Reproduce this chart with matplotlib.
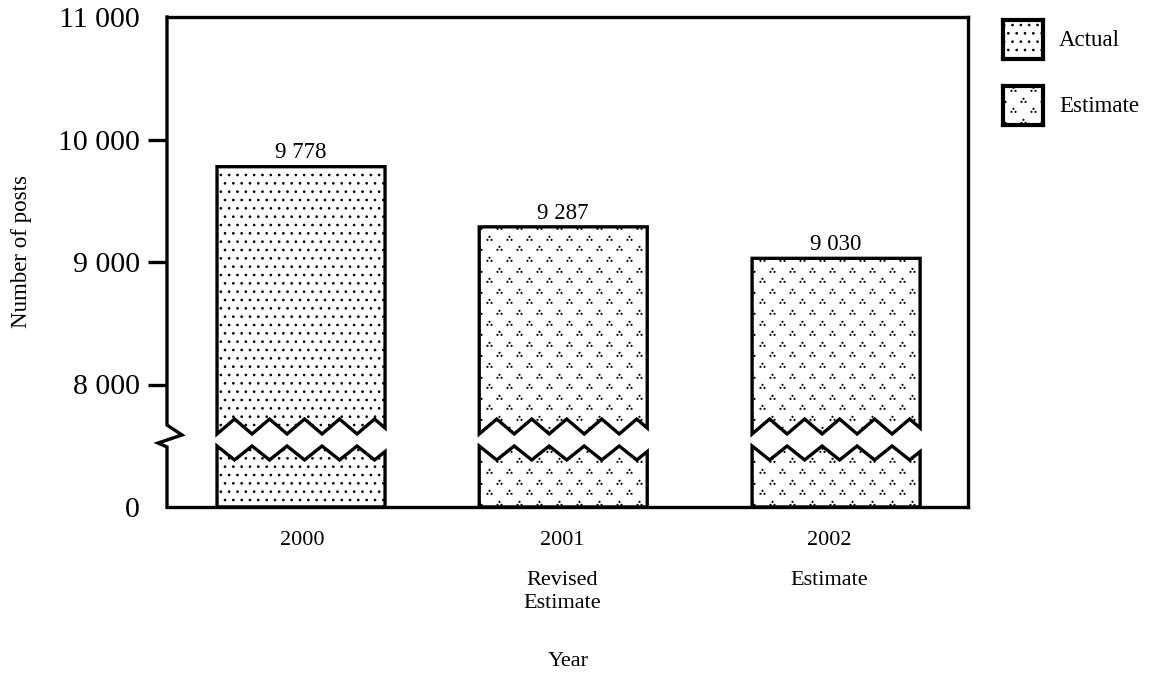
import numpy as np
import matplotlib.pyplot as plt
import matplotlib.transforms as mtransforms
from matplotlib.patches import Polygon, Rectangle
from matplotlib.path import Path

plt.rcParams['font.family'] = ['Liberation Serif', 'DejaVu Serif']
plt.rcParams['hatch.linewidth'] = 0.7

# ---- data ----
years = ['2000', '2001', '2002']
notes = [[], ['Revised', 'Estimate'], ['Estimate']]
posts = [9778, 9287, 9030]
kinds = ['Actual', 'Estimate', 'Estimate']
ytick_vals = [0, 8000, 9000, 10000, 11000]

# ---- layout ----
W, H = 1151, 673
X_POS = [0, 0.98, 2.0]
BAR_W = 0.628
BASE = 7000                      # where the broken axis draws 0
XLIM = (-0.501, 2.493)
YLIM = (BASE, 11000)
AX_PX = (167, 17, 968, 507)      # left, top, right, bottom in pixels
PX_X = (XLIM[1] - XLIM[0]) / (AX_PX[2] - AX_PX[0])
PX_Y = (YLIM[1] - YLIM[0]) / (AX_PX[3] - AX_PX[1])
LW = 2.4


def fmt(v):
    return f"{v:,}".replace(",", " ")


def tri(x, period):
    return 1 - 4 * np.abs((x / period) % 1 - 0.5)


def zigzag(left, width, mid, amp, sign):
    period = width / 4.8
    xs = np.append(np.arange(0, width, period / 2), width)
    return left + xs, mid + sign * amp * tri(xs, period)


def triad_marker():
    r = 0.32
    return Path.make_compound_path(Path.circle((0, 0.5), r),
                                   Path.circle((-0.6, -0.4), r),
                                   Path.circle((0.6, -0.4), r))


TRIAD = triad_marker()


def add_texture(ax, patch, kind, x0, x1, y0, y1, sx, sy):
    if kind == 'Actual':
        patch.set_hatch('..')
        return
    xs, ys = [], []
    row = 0
    y = y0 + sy * 0.4
    while y < y1 + sy:
        shift = 0 if row % 2 == 0 else sx / 2
        x = x0 - sx + shift
        while x < x1 + sx:
            xs.append(x)
            ys.append(y)
            x += sx
        y += sy
        row += 1
    sc = ax.scatter(xs, ys, s=20, marker=TRIAD, color='black', linewidths=0, zorder=2.5)
    sc.set_clip_path(patch)


fig = plt.figure(figsize=(W / 100, H / 100), dpi=100)
ax = fig.add_axes([AX_PX[0] / W, 1 - AX_PX[3] / H,
                   (AX_PX[2] - AX_PX[0]) / W, (AX_PX[3] - AX_PX[1]) / H])
ax.set_xlim(*XLIM)
ax.set_ylim(*YLIM)

# bars with break band
for x, v, kind in zip(X_POS, posts, kinds):
    L = x - BAR_W / 2
    R = x + BAR_W / 2
    ux, uy = zigzag(L, BAR_W, 7657, 61, 1)
    lx, ly = zigzag(L, BAR_W, 7441, 57, -1)
    upper = [(L, v), (R, v)] + list(zip(ux[::-1], uy[::-1]))
    lower = [(L, BASE)] + list(zip(lx, ly)) + [(R, BASE)]
    for pts in (upper, lower):
        fill = Polygon(pts, closed=True, facecolor='white', edgecolor='black',
                       linewidth=0, zorder=2)
        ax.add_patch(fill)
        add_texture(ax, fill, kind, L, R, BASE, v, 20 * PX_X, 10.6 * PX_Y)
        ax.add_patch(Polygon(pts, closed=True, fill=False, edgecolor='black',
                             linewidth=LW, joinstyle='miter', zorder=3))
    ax.annotate(fmt(v), (x, v), xytext=(0, 6), textcoords='offset points',
                ha='center', va='baseline', fontsize=16.5)

# axes frame
for side in ('top', 'right', 'bottom'):
    ax.spines[side].set_linewidth(LW)
ax.spines['left'].set_visible(False)
bx = XLIM[0]
ax.plot([bx, bx, bx - 9 * PX_X, bx + 15 * PX_X, bx, bx],
        [BASE, 7490, 7522, 7588, 7669, YLIM[1]],
        color='black', lw=LW, clip_on=False, solid_joinstyle='miter',
        solid_capstyle='projecting', zorder=4)

# y ticks (0 sits at the break base)
ax.set_yticks([BASE if t == 0 else t for t in ytick_vals],
              [fmt(t) for t in ytick_vals])
ax.tick_params(axis='y', direction='out', length=13.7, width=LW,
               labelsize=21.5, pad=5.8)
for tk, t in zip(ax.yaxis.get_major_ticks(), ytick_vals):
    if t in (0, 11000):
        tk.tick1line.set_visible(False)
ax.set_xticks([])

ax.set_ylabel('Number of posts', fontsize=16.5)
ax.yaxis.set_label_coords(-0.168, 0.522)

# category labels
blend = mtransforms.blended_transform_factory(ax.transData, fig.transFigure)
label_x = [X_POS[0] + 0.004, X_POS[1] - 0.005, X_POS[2] - 0.025]
for lx_, yr, note in zip(label_x, years, notes):
    fig.text(lx_, 1 - 545 / H, yr, transform=blend, ha='center', va='baseline', fontsize=16)
    for i, line in enumerate(note):
        fig.text(lx_, 1 - (585 + 23 * i) / H, line, transform=blend,
                 ha='center', va='baseline', fontsize=16)
fig.text(568 / W, 1 - 666 / H, 'Year', ha='center', va='baseline', fontsize=16)

# legend
for (top, kind) in ((20, 'Actual'), (86, 'Estimate')):
    lax = fig.add_axes([1003 / W, 1 - (top + 39) / H, 40 / W, 39 / H])
    lax.set_xlim(0, 40)
    lax.set_ylim(0, 39)
    lax.set_xticks([])
    lax.set_yticks([])
    for s in lax.spines.values():
        s.set_linewidth(3)
    rect = Rectangle((0, 0), 40, 39, facecolor='white', edgecolor='black', linewidth=0)
    lax.add_patch(rect)
    add_texture(lax, rect, kind, 0, 40, 0, 39, 20, 10.6)
    fig.text(1059 / W, 1 - (top + 26) / H, kind, ha='left', va='baseline', fontsize=16.5)

fig.savefig('out.png', dpi=100)
